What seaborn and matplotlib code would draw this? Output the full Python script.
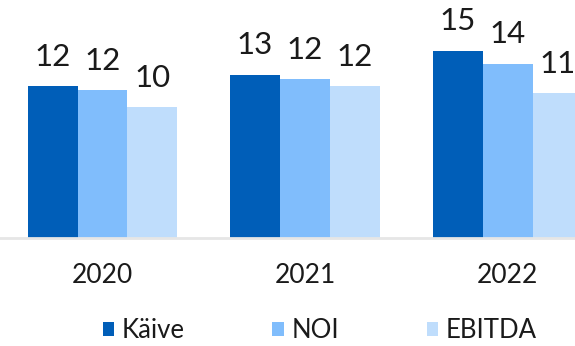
import pandas as pd
import seaborn as sns
import matplotlib.pyplot as plt

years = ['2020', '2021', '2022']
kaive = [11.84, 12.77, 14.65]
noi = [11.56, 12.42, 13.63]
ebitda = [10.2, 11.84, 11.33]
series = ['Käive', 'NOI', 'EBITDA']
colors = ['#005EB8', '#80BDFC', '#BFDDFC']

df = pd.DataFrame({
    'year': years * 3,
    'value': kaive + noi + ebitda,
    'series': [s for s in series for _ in years],
})

sns.set_style('white')
plt.rcParams['font.family'] = ['Lato', 'DejaVu Sans']

fig = plt.figure(figsize=(5.75, 3.46), dpi=100)
ax = fig.add_axes([0, 108 / 346, 1, 238 / 346])

sns.barplot(data=df, x='year', y='value', hue='series', palette=colors,
            width=0.74, saturation=1, edgecolor='none', linewidth=0, ax=ax)

for cont in ax.containers:
    ax.bar_label(cont, fmt='{:.0f}', padding=11, fontsize=22.5,
                 color='#1a1a1a')

ax.set_xlim(-0.506, 2.333)
ax.set_ylim(0, 18.6)
ax.set_xlabel('')
ax.set_ylabel('')
ax.set_yticks([])
ax.tick_params(axis='x', length=0, labelsize=19, pad=18, labelcolor='#1a1a1a')
for s in ['top', 'right', 'left']:
    ax.spines[s].set_visible(False)
ax.spines['bottom'].set_color('#E6E6E6')
ax.spines['bottom'].set_linewidth(2)

sns.move_legend(ax, 'center', bbox_to_anchor=(0.556, -0.39), ncol=3,
                frameon=False, title=None, fontsize=18.5,
                handlelength=0.45, handleheight=0.45, handletextpad=0.3,
                columnspacing=3.4)
for t in ax.get_legend().get_texts():
    t.set_color('#1a1a1a')

fig.savefig('out.png', dpi=100)
